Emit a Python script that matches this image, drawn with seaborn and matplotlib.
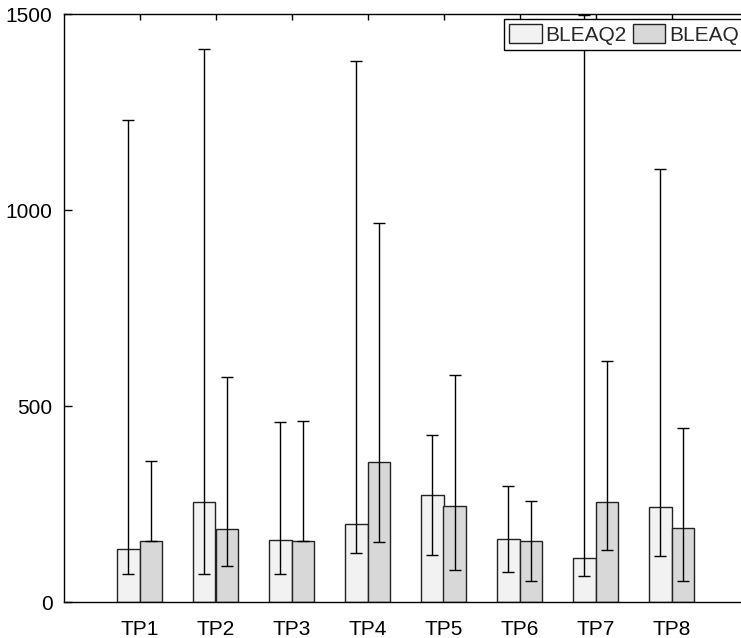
import matplotlib
matplotlib.use("Agg")
import matplotlib.pyplot as plt
import seaborn as sns
import pandas as pd

categories = ["TP1", "TP2", "TP3", "TP4", "TP5", "TP6", "TP7", "TP8"]
series_names = ["BLEAQ2", "BLEAQ"]

bleaq2_vals = [135, 255, 158, 199, 273, 161, 112, 242]
bleaq2_low = [71, 71, 71, 125, 120, 77, 66, 117]
bleaq2_high = [1230, 1411, 459, 1380, 426, 296, 1497, 1105]

bleaq_vals = [156, 186, 156, 357, 245, 156, 255, 189]
bleaq_low = [156, 92, 156, 153, 82, 54, 133, 54]
bleaq_high = [360, 574, 462, 967, 579, 258, 615, 444]

yticks = [0, 500, 1000, 1500]

sns.set_theme(style="white")
plt.rcParams["font.family"] = ["Liberation Sans", "DejaVu Sans"]

df = pd.DataFrame({
    "cat": categories * 2,
    "series": [series_names[0]] * len(categories) + [series_names[1]] * len(categories),
    "value": bleaq2_vals + bleaq_vals,
})

fig = plt.figure(figsize=(7.41, 6.38), dpi=100)
ax = fig.add_axes([63.5 / 741, 36 / 638, 684 / 741, 588 / 638])

palette = {"BLEAQ2": "#f2f2f2", "BLEAQ": "#d8d8d8"}
sns.barplot(data=df, x="cat", y="value", hue="series", hue_order=series_names,
            order=categories, palette=palette, saturation=1, width=0.58, gap=0,
            errorbar=None, edgecolor="#222222", linewidth=1.0, ax=ax)

lows = [bleaq2_low, bleaq_low]
highs = [bleaq2_high, bleaq_high]
vals = [bleaq2_vals, bleaq_vals]
for cont, v, lo, hi in zip(ax.containers, vals, lows, highs):
    xs = [p.get_x() + p.get_width() / 2 for p in cont]
    yerr = [[a - b for a, b in zip(v, lo)], [c - a for a, c in zip(v, hi)]]
    ax.errorbar(xs, v, yerr=yerr, fmt="none", ecolor="black", elinewidth=1.0,
                capsize=4, capthick=1.0, zorder=3)

ax.set_xlim(-1, 8)
ax.set_ylim(0, 1500)
ax.set_yticks(yticks)
ax.set_yticklabels([str(t) for t in yticks])
ax.set_xlabel("")
ax.set_ylabel("")

for name, s in ax.spines.items():
    s.set_visible(name != "right")
    s.set_linewidth(1.0)
    s.set_color("black")

ax.tick_params(axis="x", which="both", direction="in", top=True, bottom=True,
               length=4.5, width=1.0, color="black", labelsize=15, pad=13,
               labelcolor="black")
ax.tick_params(axis="y", which="both", direction="in", left=True, right=False,
               length=6, width=1.0, color="black", labelsize=15, pad=8,
               labelcolor="black")

handles, labels = ax.get_legend_handles_labels()
if ax.get_legend() is not None:
    ax.get_legend().remove()
leg = fig.legend(handles, labels, loc="upper left",
                 bbox_to_anchor=(504 / 741, 1 - 19 / 638),
                 bbox_transform=fig.transFigure, ncol=2, frameon=True,
                 fancybox=False, edgecolor="black", framealpha=1,
                 fontsize=15, handlelength=1.55, handleheight=1.0,
                 handletextpad=0.2, columnspacing=0.3, borderpad=0.25,
                 borderaxespad=0)
leg.get_frame().set_linewidth(1.0)
for h in leg.legend_handles:
    h.set_edgecolor("#222222")
    h.set_linewidth(1.0)

fig.savefig("out.png", dpi=100)
